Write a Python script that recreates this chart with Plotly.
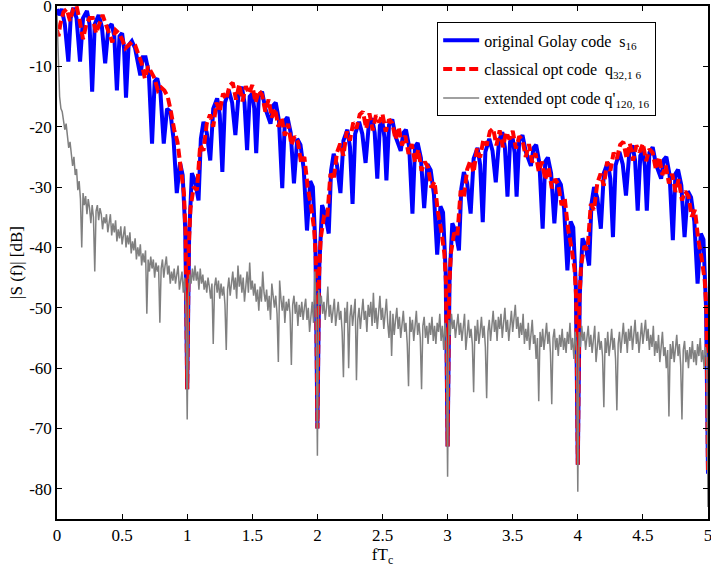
import plotly.graph_objects as go

# ---------------- data ----------------
# positions of samples inside each spectral lobe (fraction of 1/Tc), blue curve
BLUE_OFF = [0.000, 0.015, 0.036, 0.060, 0.087, 0.105, 0.125, 0.150, 0.177, 0.200,
            0.230, 0.250, 0.270, 0.290, 0.320, 0.345, 0.370, 0.395, 0.420, 0.440,
            0.460, 0.480, 0.500, 0.515, 0.530, 0.550, 0.575, 0.600, 0.640, 0.660,
            0.680, 0.705, 0.730, 0.750, 0.770, 0.795, 0.820, 0.845, 0.870, 0.895,
            0.920, 0.945, 0.965, 0.985]

blue_lobe0 = [-0.5, -1.5, -0.5, -3, -9.2, -2, -0.3, -2, -9.2, -2,
              -0.8, -3, -14.2, -3, -1.5, -3.5, -9.5, -3.5, -3, -5,
              -14, -5, -4.5, -7, -15.2, -6.5, -5.8, -7, -11.5, -8.5,
              -8.5, -11, -22.8, -12.5, -12, -14.5, -22.8, -17, -17.5, -22,
              -31, -26, -28, -37]
blue_lobe1 = [-63.5, -38, -27.7, -29, -32.2, -22, -19.2, -21, -25.6, -17,
              -15.3, -18, -27.5, -16, -14.0, -16, -21.4, -14.5, -13.4, -16,
              -23.9, -15, -14.5, -17, -24.4, -15, -14.2, -17, -19.5, -16.5,
              -16.0, -19, -30.2, -19, -18.4, -21, -29.4, -22, -23.0, -27,
              -37.2, -29, -30, -40]
blue_lobe2 = [-70, -43, -33, -34.5, -37.7, -27.3, -24.5, -26.3, -31, -22.3,
              -20.5, -23.3, -32.8, -21.2, -19.2, -21.2, -26, -19.6, -18.6, -21,
              -28.6, -19.8, -19.3, -21.8, -28.9, -19.7, -18.8, -21.6, -24, -21,
              -20.5, -23.4, -34.4, -23.3, -22.7, -25.2, -33.5, -26.2, -27.2, -31.2,
              -41.2, -33.2, -34.2, -44]
blue_lobe3 = [-73, -45.5, -36, -37.3, -40.5, -30.3, -27.5, -29.3, -34.4, -25.3,
              -23.5, -26.3, -35.8, -24.2, -22, -24, -29.2, -22.3, -20.9, -23.4,
              -31.6, -22.5, -21.9, -24.3, -31.6, -22.3, -21.4, -24.1, -26.5, -23.5,
              -23, -26, -36.9, -25.8, -25.1, -27.7, -36, -28.6, -29.6, -33.6,
              -43.8, -35.7, -36.7, -46.5]
blue_lobe4 = [-76, -48, -38.5, -39.8, -43, -32.8, -30, -31.8, -36.9, -27.7,
              -25.9, -28.6, -38.3, -26.4, -24.2, -26.2, -31.4, -24.5, -23.1, -25.6,
              -33.9, -24.8, -24, -26.5, -33.9, -24.3, -23.4, -26.2, -28.6, -25.5,
              -25, -28, -38.8, -27.8, -27.1, -29.7, -38.3, -30.7, -31.7, -35.7,
              -46, -37.7, -38.7, -50]
blue_end = -77.5

# red curve sample positions inside each lobe
RED_OFF = [0.000, 0.012, 0.025, 0.050, 0.075, 0.100, 0.125, 0.150, 0.175, 0.200,
           0.225, 0.250, 0.275, 0.300, 0.325, 0.350, 0.375, 0.400, 0.425, 0.450,
           0.475, 0.500, 0.525, 0.550, 0.575, 0.600, 0.625, 0.650, 0.675, 0.700,
           0.725, 0.750, 0.775, 0.800, 0.825, 0.850, 0.875, 0.900, 0.925, 0.950,
           0.975, 0.988]

red_lobe0 = [-4, -5, -3, -1, -0.5, -2.5, -0.5, 0, -2.5, -5.5,
             -3, -2, -2, -4.5, -3, -1.5, -3, -4.5, -6, -4,
             -4.5, -5.5, -7, -6.5, -6, -6.5, -8, -9.5, -12, -10,
             -11, -12, -14, -13.5, -14, -15, -17.5, -20.5, -22.5, -27.5,
             -31, -38]
red_lobe1 = [-63.5, -40, -33.5, -30, -30.5, -23, -24, -19.5, -18, -20,
             -16, -17.5, -14.5, -15.5, -13.2, -12.7, -15.5, -13, -15.8, -13.3,
             -14.5, -13.1, -16, -14, -14.7, -17.5, -15.5, -18.5, -17, -20,
             -18.5, -21.5, -19.5, -23, -21.6, -22.5, -26, -25, -30, -33,
             -37, -42]
red_lobe2 = [-70, -45, -38.5, -35, -35.3, -27.8, -28.8, -24.3, -22.8, -24.8,
             -20.8, -22.3, -19.3, -20.3, -18, -17.5, -20.3, -17.8, -20.6, -18.1,
             -19.3, -17.9, -20.8, -18.8, -19.4, -22.1, -20.1, -23.1, -21.5, -24.5,
             -22.9, -25.9, -23.8, -27.3, -25.8, -26.7, -30.1, -29.1, -34.1, -37,
             -41, -46]
red_lobe3 = [-73, -47, -41, -37.6, -38.1, -30.6, -31.6, -27.1, -25.6, -27.6,
             -23.6, -25.1, -22.1, -23.1, -20.8, -20.3, -23.1, -20.6, -23.4, -20.9,
             -22.1, -20.7, -23.6, -21.6, -22.2, -25, -22.9, -25.9, -24.4, -27.4,
             -25.8, -28.8, -26.7, -30.2, -28.7, -29.5, -33, -31.9, -36.9, -39.8,
             -43.6, -48.5]
red_lobe4 = [-76, -49, -43, -39.8, -40.3, -32.8, -33.8, -29.3, -27.8, -29.8,
             -25.8, -27.3, -24.3, -25.3, -23, -22.5, -25.3, -22.8, -25.6, -23.1,
             -24.2, -22.8, -25.7, -23.7, -24.3, -27.1, -25, -28, -26.4, -29.4,
             -27.8, -30.8, -28.7, -32.2, -30.7, -31.5, -34.9, -33.8, -38.7, -41.6,
             -45.5, -50.5]
red_end = -77.5

# gray curve, sampled every 0.01 in fTc from 0 to 5
GRAY_STEP = 0.01
gray_y = [
    -1.5, -9, -15, -17, -17.5, -19, -20.5, -19.5, -22, -23.5,
    -22.5, -25, -26.5, -25, -28, -27, -30.5, -29, -32, -40,
    -31, -33, -31.5, -34.5, -32, -33.5, -36, -33, -35, -44,
    -34, -33, -35.5, -33.5, -34.5, -37, -35, -36, -34.5, -37.5,
    -35.5, -34.5, -38, -36, -37.5, -35.5, -39, -37, -38.5, -36.5,
    -39.5, -37.5, -36.5, -40, -38, -39.5, -37.5, -41, -39, -40.5,
    -38.5, -42, -40, -41.5, -39.5, -43, -41, -42.5, -40.5, -51,
    -42, -44, -41.5, -43.5, -42, -45, -42.5, -44, -43, -52.5,
    -43.5, -42, -45, -43, -41.5, -44.5, -43, -46, -44, -45.5,
    -43.5, -46, -44.5, -43, -47, -45, -44, -47.5, -45, -50,
    -68.5, -48, -44.5, -46, -43.5, -45.5, -43, -45.5, -44, -47,
    -43.5, -46, -44.5, -47, -45.5, -47.5, -45, -46.5, -48.5, -46,
    -56, -46.5, -45, -47.5, -45.5, -48.5, -46, -48, -46.5, -49.5,
    -57, -47, -45, -48, -46, -44, -47, -45, -48.5, -43,
    -46.5, -44.5, -47.5, -45, -49, -46, -44, -47.5, -42.5, -47,
    -45.5, -48, -46, -49, -47, -50.5, -46.5, -49, -44, -47.5,
    -49, -47, -50.5, -48, -52, -46, -48.5, -50, -48, -51,
    -59, -45.5, -48.5, -50.5, -48, -52.5, -49, -50.5, -48.5, -51,
    -59.5, -49.5, -48, -51, -49, -53, -49.5, -51.5, -49, -52,
    -50, -48.5, -52, -50, -54, -50.5, -49, -52.5, -44, -51,
    -74.5, -47, -49.5, -48, -51, -49, -52, -50, -46.5, -51.5,
    -49.5, -52.5, -50, -48.5, -53, -51, -49, -52, -50.5, -54,
    -61.5, -50, -52.5, -49, -60, -51.5, -49.5, -53, -51, -48.5,
    -62, -52, -50, -53.5, -51, -48.5, -52, -50.5, -54, -49.5,
    -51.5, -49, -53, -47.5, -52.5, -50, -53.5, -51, -48, -52,
    -50, -53.5, -51.5, -48.5, -52.5, -55, -50.5, -58, -51, -54.5,
    -52, -50, -53.5, -51.5, -55, -52, -50.5, -54, -52.5, -56,
    -63, -51.5, -54, -52, -55.5, -53, -50.5, -54.5, -52.5, -55,
    -63.5, -53, -51.5, -55, -53, -56, -52.5, -54.5, -51.5, -55.5,
    -53, -56, -52.5, -54, -51, -55.5, -53, -57, -52.5, -55,
    -78, -52, -54.5, -51, -53.5, -52, -55, -53, -51, -54.5,
    -52.5, -55.5, -53, -51, -57, -54, -52, -55, -53.5, -56,
    -64, -53, -55.5, -52, -56, -54, -51.5, -55, -53, -56.5,
    -65, -54, -52, -55.5, -53, -50.5, -54, -52, -55.5, -51.5,
    -53.5, -51, -55, -52.5, -50, -54, -52, -55.5, -53, -50.5,
    -54, -52, -49.5, -53.5, -51.5, -55, -52.5, -54.5, -51, -56,
    -53.5, -55.5, -52.5, -57, -54, -52, -56, -54.5, -58.5, -55,
    -65.5, -54, -56.5, -53.5, -57, -54.5, -52.5, -56, -54, -57.5,
    -66, -55, -53.5, -57, -55, -58, -54.5, -56.5, -53.5, -57,
    -55, -57.5, -54, -56, -52.5, -57, -55, -58.5, -54, -56.5,
    -80.5, -54, -56.5, -53, -55.5, -54, -57, -55, -53, -56.5,
    -54.5, -57.5, -55, -53, -59, -56, -54, -57, -55.5, -58,
    -66.5, -55, -57.5, -54, -58, -56, -53.5, -57, -55, -58.5,
    -67, -56, -54, -57.5, -55, -52.5, -56, -54, -57.5, -53.5,
    -55.5, -53, -57, -54.5, -52, -56, -54, -57.5, -55, -52.5,
    -56, -54, -52, -55.5, -53.5, -57, -54.5, -56.5, -53, -58,
    -55.5, -57.5, -54.5, -59, -56, -54, -58, -56.5, -60, -57,
    -68, -56, -58.5, -55.5, -59, -56.5, -54.5, -58, -56, -59.5,
    -68.5, -57, -55.5, -59, -57, -60, -56.5, -58.5, -55.5, -59,
    -57, -59.5, -56, -58, -55, -59, -57, -60, -56.5, -58,
    -83,
]

X_TICKS = [0, 0.5, 1, 1.5, 2, 2.5, 3, 3.5, 4, 4.5, 5]
X_TICK_TEXT = ["0", "0.5", "1", "1.5", "2", "2.5", "3", "3.5", "4", "4.5", "5"]
Y_TICKS = [0, -10, -20, -30, -40, -50, -60, -70, -80]
Y_TICK_TEXT = ["0", "-10", "-20", "-30", "-40", "-50", "-60", "-70", "-80"]

NAMES = ["original Golay code  s<sub>16</sub>",
         "classical opt code  q<sub>32,1 6</sub>",
         "extended opt code q'<sub>120, 16</sub>"]

# ---------------- assemble series ----------------
blue_lobes = [blue_lobe0, blue_lobe1, blue_lobe2, blue_lobe3, blue_lobe4]
red_lobes = [red_lobe0, red_lobe1, red_lobe2, red_lobe3, red_lobe4]

blue_x, blue_y = [], []
for k, lobe in enumerate(blue_lobes):
    for o, v in zip(BLUE_OFF, lobe):
        blue_x.append(round(k + o, 4))
        blue_y.append(v)
blue_x.append(5.0)
blue_y.append(blue_end)

red_x, red_y = [], []
for k, lobe in enumerate(red_lobes):
    for o, v in zip(RED_OFF, lobe):
        red_x.append(round(k + o, 4))
        red_y.append(v)
red_x.append(5.0)
red_y.append(red_end)

gray_x = [round(i * GRAY_STEP, 4) for i in range(len(gray_y))]

FONT = "Liberation Serif, Times New Roman, serif"

fig = go.Figure()
fig.add_trace(go.Scatter(x=blue_x, y=blue_y, mode="lines", name=NAMES[0],
                         legendgroup="a",
                         line=dict(color="#0000ff", width=4)))
fig.add_trace(go.Scatter(x=red_x, y=red_y, mode="lines", name=NAMES[1],
                         legendgroup="b",
                         line=dict(color="#ff0000", width=4, dash="9px,4px")))
fig.add_trace(go.Scatter(x=gray_x, y=gray_y, mode="lines", name=NAMES[2],
                         legendgroup="c",
                         line=dict(color="#808080", width=1.5)))

axis_common = dict(showline=True, linecolor="black", linewidth=1.5, mirror="ticks",
                   ticks="inside", ticklen=5, tickwidth=1, tickcolor="black",
                   showgrid=False, zeroline=False, automargin=False,
                   ticklabeloverflow="allow",
                   tickfont=dict(family=FONT, size=17, color="black"))

fig.update_layout(
    width=711, height=572,
    margin=dict(l=57, r=3, t=6, b=53),
    paper_bgcolor="white", plot_bgcolor="white",
    font=dict(family=FONT, size=16, color="black"),
    showlegend=True,
    legend=dict(x=0.584, y=0.968, xanchor="left", yanchor="top",
                bgcolor="white", bordercolor="black", borderwidth=1,
                font=dict(family=FONT, size=16, color="black"),
                tracegroupgap=5, itemwidth=36,
                entrywidth=228, entrywidthmode="pixels"),
    xaxis=dict(range=[0, 5], tickvals=X_TICKS, ticktext=X_TICK_TEXT,
               title=dict(text="fT<sub>c</sub>", font=dict(family=FONT, size=17),
                          standoff=4),
               **axis_common),
    yaxis=dict(range=[-85, 0], tickvals=Y_TICKS, ticktext=Y_TICK_TEXT,
               title=dict(text="|S (f)| [dB]", font=dict(family=FONT, size=17),
                          standoff=2),
               **axis_common),
)

fig.write_html("out.html", config={"displayModeBar": False},
               post_script="document.body.style.margin='0';")
